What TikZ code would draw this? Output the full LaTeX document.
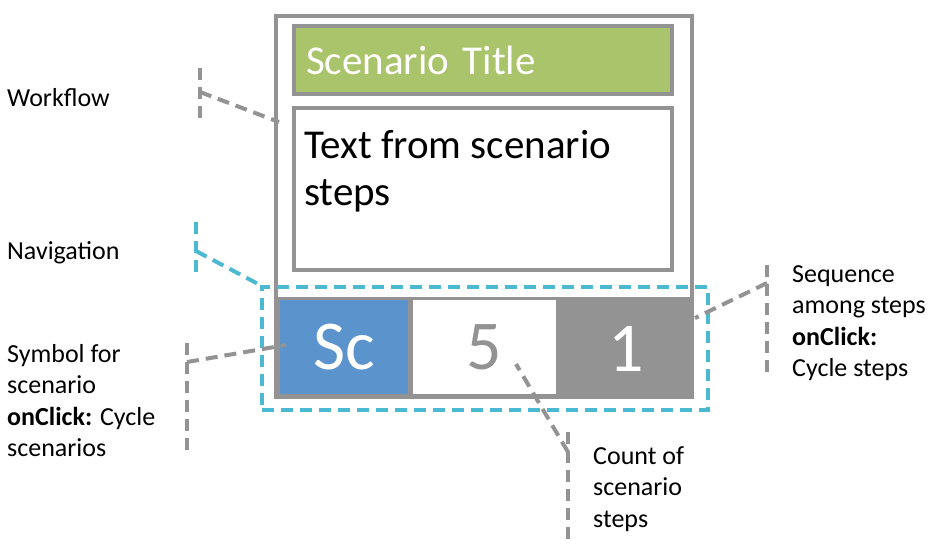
\documentclass[tikz,border=0pt]{standalone}
\usepackage{fontspec}
\setmainfont{Carlito}
\usetikzlibrary{positioning, calc}
\definecolor{framegray}{RGB}{147,147,147}
\definecolor{titlegreen}{RGB}{169,196,107}
\definecolor{scblue}{RGB}{91,148,204}
\definecolor{navcyan}{RGB}{75,185,210}
\tikzset{
    panel/.style={
        rectangle, draw=framegray, line width=4pt, fill=white
    },
    titlebar/.style={
        rectangle, draw=framegray, line width=4pt, fill=titlegreen,
        inner xsep=12pt, text width=354pt, align=left,
        minimum height=68pt, text=white,
        font=\fontsize{41}{47}\selectfont
    },
    cell/.style={
        rectangle, inner sep=0pt,
        font=\fontsize{70}{80}\selectfont
    },
    note/.style={
        inner sep=0pt, align=left, text=black,
        font=\fontsize{26}{31.5}\selectfont
    },
    leader/.style={draw=framegray, line width=4pt, dash pattern=on 12pt off 7pt},
    navleader/.style={draw=navcyan, line width=4pt, dash pattern=on 12pt off 7pt}
}

\begin{document}
\begin{tikzpicture}[x=1pt, y=-1pt]
    \useasboundingbox (0,0) rectangle (936,552);

    % widget
    \node[panel, minimum width=416pt, minimum height=381pt] (frame) at (484,206.5) {};
    \node[titlebar] (title) at (483,60) {Scenario Title};
    \node[panel, minimum width=378pt, minimum height=162pt] (body) at (483,189) {};
    \node[note, anchor=north west, font=\fontsize{41}{47}\selectfont]
        (bodytext) at ([shift={(12pt,-24pt)}]body.north west) {Text from scenario\\steps};

    % navigation bar
    \node[cell, fill=framegray, minimum width=416pt, minimum height=100pt] (bar) at (484,347) {};
    \node[cell, fill=scblue, text=white, minimum width=128pt, minimum height=94pt] (sc) at (344,347) {Sc};
    \node[cell, fill=white, text=framegray, minimum width=143pt, minimum height=94pt] (count) at (484.5,347) {5};
    \node[cell, text=white] (seq) at (626,349) {1};
    \node[draw=navcyan, line width=4pt, dash pattern=on 12pt off 7pt,
        minimum width=446pt, minimum height=123pt] (nav) at (485,348.5) {};

    % labels
    \node[note, anchor=west] (workflow) at (7,98) {Workflow};
    \node[note, anchor=west] (navigation) at (7,253) {Navigation};
    \node[note, anchor=north west] (symbol) at (7,344) {Symbol for\\scenario\\\textbf{onClick:} Cycle\\scenarios};
    \node[note, anchor=north west] (sequence) at (792,265) {Sequence\\among steps\\\textbf{onClick:}\\Cycle steps};
    \node[note, anchor=north west] (countnote) at (593,446) {Count of\\scenario\\steps};

    % leader brackets
    \coordinate (wfTop) at (200,68);
    \coordinate (wfBot) at (200,122);
    \coordinate (wfJoin) at (200,92);
    \coordinate (wfEnd) at (279,122);
    \draw[leader] (wfTop) -- (wfBot);
    \draw[leader] (wfJoin) -- (wfEnd);

    \coordinate (navTop) at (196,222);
    \coordinate (navBot) at (196,277);
    \coordinate (navJoin) at (196,251);
    \draw[navleader] (navTop) -- (navBot);
    \draw[navleader] (navJoin) -- (nav.north west);

    \coordinate (symTop) at (187,343);
    \coordinate (symBot) at (187,452);
    \coordinate (symJoin) at (187,362);
    \coordinate (symEnd) at (286,345);
    \draw[leader] (symTop) -- (symBot);
    \draw[leader] (symJoin) -- (symEnd);

    \coordinate (seqTop) at (767,265);
    \coordinate (seqBot) at (767,374);
    \coordinate (seqJoin) at (767,283);
    \coordinate (seqEnd) at (695,318);
    \draw[leader] (seqTop) -- (seqBot);
    \draw[leader] (seqJoin) -- (seqEnd);

    \coordinate (cntTop) at (568,432);
    \coordinate (cntBot) at (568,546);
    \coordinate (cntJoin) at (568,452);
    \coordinate (cntEnd) at (516,364);
    \draw[leader] (cntTop) -- (cntBot);
    \draw[leader] (cntJoin) -- (cntEnd);
\end{tikzpicture}
\end{document}
